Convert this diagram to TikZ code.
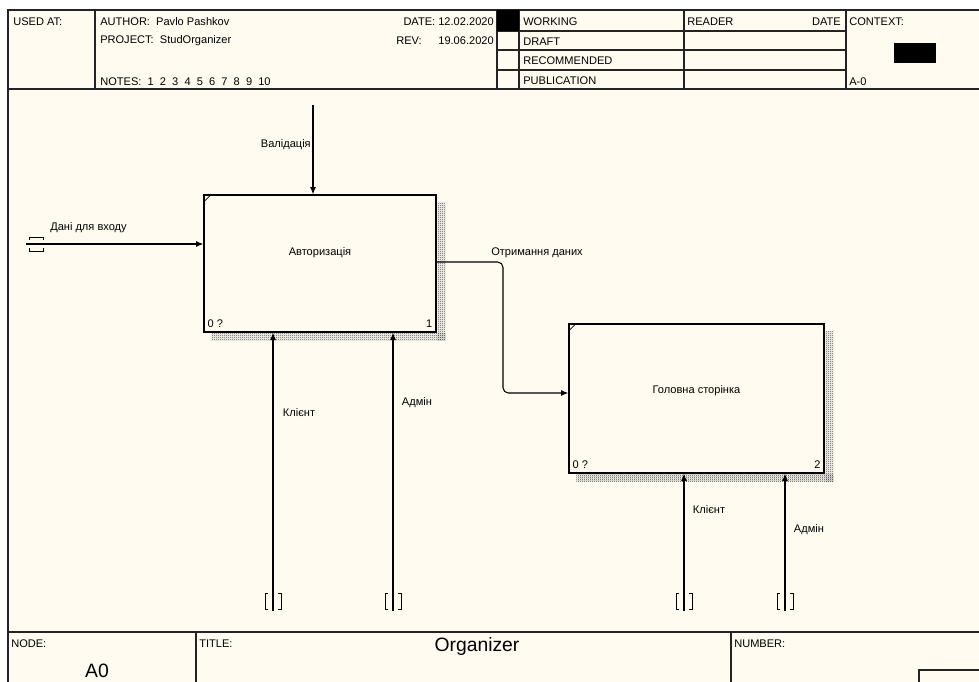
\documentclass[tikz,border=0pt]{standalone}
\usepackage{fontspec}
\setmainfont{Liberation Sans}
\usetikzlibrary{arrows.meta,patterns,calc,positioning}

\definecolor{paper}{RGB}{255,251,240}
\definecolor{frameline}{RGB}{35,35,35}

% fine checker used for the box shadows
\pgfdeclarepatternformonly{shadowchecks}{\pgfpointorigin}{\pgfqpoint{1.5pt}{1.5pt}}{\pgfqpoint{1.5pt}{1.5pt}}{%
  \pgfpathrectangle{\pgfpointorigin}{\pgfqpoint{0.75pt}{0.75pt}}%
  \pgfpathrectangle{\pgfqpoint{0.75pt}{0.75pt}}{\pgfqpoint{0.75pt}{0.75pt}}%
  \pgfusepath{fill}}

\tikzset{
  sheet/.style={draw=frameline, line width=0.8pt},
  hdr/.style={font=\fontsize{8.3}{9}\selectfont, inner sep=0pt, anchor=west},
  box/.style={draw=black, line width=1pt, fill=paper, inner sep=0pt},
  boxtext/.style={font=\fontsize{8.3}{9}\selectfont, inner sep=0pt},
  flowlabel/.style={font=\fontsize{8.3}{9}\selectfont, inner sep=0pt},
  flow/.style={draw=black, line width=0.8pt, -{Latex[length=5.5pt,width=4.5pt]}},
  shade/.style={pattern=shadowchecks, pattern color=black!70},
  tunnel/.style={draw=black, line width=0.6pt},
  bigtext/.style={font=\fontsize{14.5}{16}\selectfont, inner sep=0pt},
}

\begin{document}
\begin{tikzpicture}[x=0.75pt, y=-0.75pt]
\useasboundingbox (0,0) rectangle (979,682);
\clip (0,0) rectangle (979,682);
\fill[white] (0,0) rectangle (979,682);
\fill[paper] (8,10) rectangle (990,690);

% sheet frame and header
\draw[sheet] (990,10) -- (8,10) -- (8,690);
\draw[sheet] (8,89) -- (990,89);
\foreach \x in {95,497,519,684,846}
  \draw[sheet] (\x,10) -- (\x,89);
\foreach \y in {31,50,70}
  \draw[sheet] (497,\y) -- (846,\y);
\fill[black] (497,10) rectangle (519,31);
\fill[black] (894,43) rectangle (936,63);

\node[hdr] (usedat) at (13,22) {USED AT:};
\node[hdr] (author) at (100,22) {AUTHOR:\ \ Pavlo Pashkov};
\node[hdr] (project) at (100,41) {PROJECT:\ \ StudOrganizer};
\node[hdr] (notes) at (100,82) {NOTES:\ \ 1\ \ 2\ \ 3\ \ 4\ \ 5\ \ 6\ \ 7\ \ 8\ \ 9\ \ 10};
\node[hdr, anchor=east] (date) at (494,22) {DATE:\ 12.02.2020};
\node[hdr] (revlbl) at (396,41) {REV:};
\node[hdr, anchor=east] (rev) at (494,41) {19.06.2020};
\node[hdr] (working) at (523,22) {WORKING};
\node[hdr] (draft) at (523,42) {DRAFT};
\node[hdr] (recommended) at (523,61) {RECOMMENDED};
\node[hdr] (publication) at (523,81) {PUBLICATION};
\node[hdr] (reader) at (687,22) {READER};
\node[hdr, anchor=east] (readerdate) at (841,22) {DATE};
\node[hdr] (context) at (849,22) {CONTEXT:};
\node[hdr] (ctxnode) at (849,82) {A-0};

% footer
\draw[sheet, line width=1.4pt] (8,632) -- (990,632);
\foreach \x in {196,731}
  \draw[sheet] (\x,632) -- (\x,690);
\draw[sheet] (990,670) -- (919,670) -- (919,690);
\node[hdr] (nodelbl) at (11,644) {NODE:};
\node[hdr] (titlelbl) at (199,644) {TITLE:};
\node[hdr] (numberlbl) at (734,644) {NUMBER:};
\node[bigtext] (title) at (477,646) {Organizer};
\node[bigtext] (nodeid) at (97,671) {A0};

% activity boxes
\node[box, minimum width=174pt, minimum height=102.75pt] (auth) at (320,263.5) {};
\fill[shade] ($(auth.north east)+(0.7,8)$) rectangle ($(auth.south east)+(9,8)$);
\fill[shade] ($(auth.south west)+(8,0.7)$) rectangle ($(auth.south east)+(9,8)$);
\draw[line width=0.6pt] ($(auth.north west)+(0,8)$) -- ($(auth.north west)+(8,0)$);
\node[boxtext] (authname) at ($(auth.center)+(0,-11)$) {Авторизація};
\node[boxtext, anchor=south west] (authref) at ($(auth.south west)+(4,-5)$) {0 ?};
\node[boxtext, anchor=south east] (authnum) at ($(auth.south east)+(-4,-5)$) {1};

\node[box, minimum width=191.25pt, minimum height=111.75pt] (home) at (696.5,398.5) {};
\fill[shade] ($(home.north east)+(0.7,8)$) rectangle ($(home.south east)+(9,8)$);
\fill[shade] ($(home.south west)+(8,0.7)$) rectangle ($(home.south east)+(9,8)$);
\draw[line width=0.6pt] ($(home.north west)+(0,8)$) -- ($(home.north west)+(8,0)$);
\node[boxtext] (homename) at ($(home.center)+(0,-8)$) {Головна сторінка};
\node[boxtext, anchor=south west] (homeref) at ($(home.south west)+(4,-5)$) {0 ?};
\node[boxtext, anchor=south east] (homenum) at ($(home.south east)+(-4,-5)$) {2};

% input
\coordinate (inp) at (26,244);
\draw[flow] (inp) -- (inp -| auth.west);
\draw[tunnel] (29,240) -- (29,237) -- (43,237) -- (43,240)
              (29,248) -- (29,251) -- (43,251) -- (43,248);
\node[flowlabel, anchor=west] (inplbl) at (50,228) {Дані для входу};

% control
\coordinate (ctl) at (313,105);
\draw[flow] (ctl) -- (ctl |- auth.north);
\node[flowlabel, anchor=east] (ctllbl) at (311,145) {Валідація};

% output to second box
\coordinate (bendtop) at (503,262);
\coordinate (bendlow) at (503,393);
\draw[flow, rounded corners=4pt] (bendtop -| auth.east) -- (bendtop) -- (bendlow) -- (bendlow -| home.west);
\node[flowlabel] (outlbl) at (537,253) {Отримання даних};

% mechanisms
\foreach \x/\n in {273/mclient,393/madmin,684/mclienttwo,785/madmintwo}
  \coordinate (\n) at (\x,611);
\draw[flow] (mclient) -- (mclient |- auth.south);
\draw[flow] (madmin) -- (madmin |- auth.south);
\draw[flow] (mclienttwo) -- (mclienttwo |- home.south);
\draw[flow] (madmintwo) -- (madmintwo |- home.south);
\foreach \x in {273,393,684,785}
  \draw[tunnel] (\x-5,593) -- (\x-8,593) -- (\x-8,609) -- (\x-5,609)
                (\x+5,593) -- (\x+8,593) -- (\x+8,609) -- (\x+5,609);
\node[flowlabel] (clientlbl) at (299,413) {Клієнт};
\node[flowlabel] (adminlbl) at (417,403) {Адмін};
\node[flowlabel] (clienttwolbl) at (709,510) {Клієнт};
\node[flowlabel] (admintwolbl) at (809,530) {Адмін};
\end{tikzpicture}
\end{document}
